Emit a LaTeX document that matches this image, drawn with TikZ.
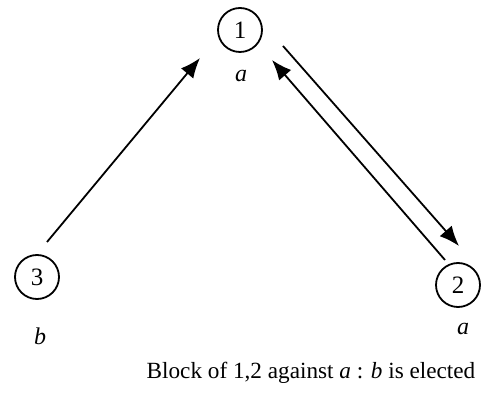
\documentclass[tikz,border=0pt]{standalone}
\usepackage{fontspec}
\setmainfont{Liberation Serif}
\usetikzlibrary{arrows.meta,calc}
\begin{document}
\begin{tikzpicture}[x=0.5pt,y=-0.5pt,
  vert/.style={circle,draw,line width=0.9pt,minimum size=22pt,inner sep=0pt,font=\fontsize{12.5}{14}\selectfont},
  lbl/.style={font=\fontsize{12}{14}\selectfont},
  arr/.style={line width=0.9pt,-{Latex[length=10pt,width=8pt]}}]
\useasboundingbox (0,0) rectangle (492,400);
\node[vert] (n1) at (240,30) {1};
\node[vert] (n3) at (37,277) {3};
\node[vert] (n2) at (458,285) {2};
\node[lbl] (l1) at (241,76) {\textit{a}};
\node[lbl] (l3) at (40,336) {\textit{b}};
\node[lbl] (l2) at (463,329) {\textit{a}};
\node[lbl,font=\fontsize{11.6}{14}\selectfont] (cap) at (311,373) {Block of 1,2 against \textit{a} : \textit{b} is elected};
\draw[arr] ($(n3)+(10,-35)$) -- ($(n1)+(-40,28)$);
\draw[arr] ($(n1)+(43,16)$) -- ($(n2)+(1,-39)$);
\draw[arr] ($(n2)+(-13,-25)$) -- ($(n1)+(32,30)$);
\end{tikzpicture}
\end{document}
